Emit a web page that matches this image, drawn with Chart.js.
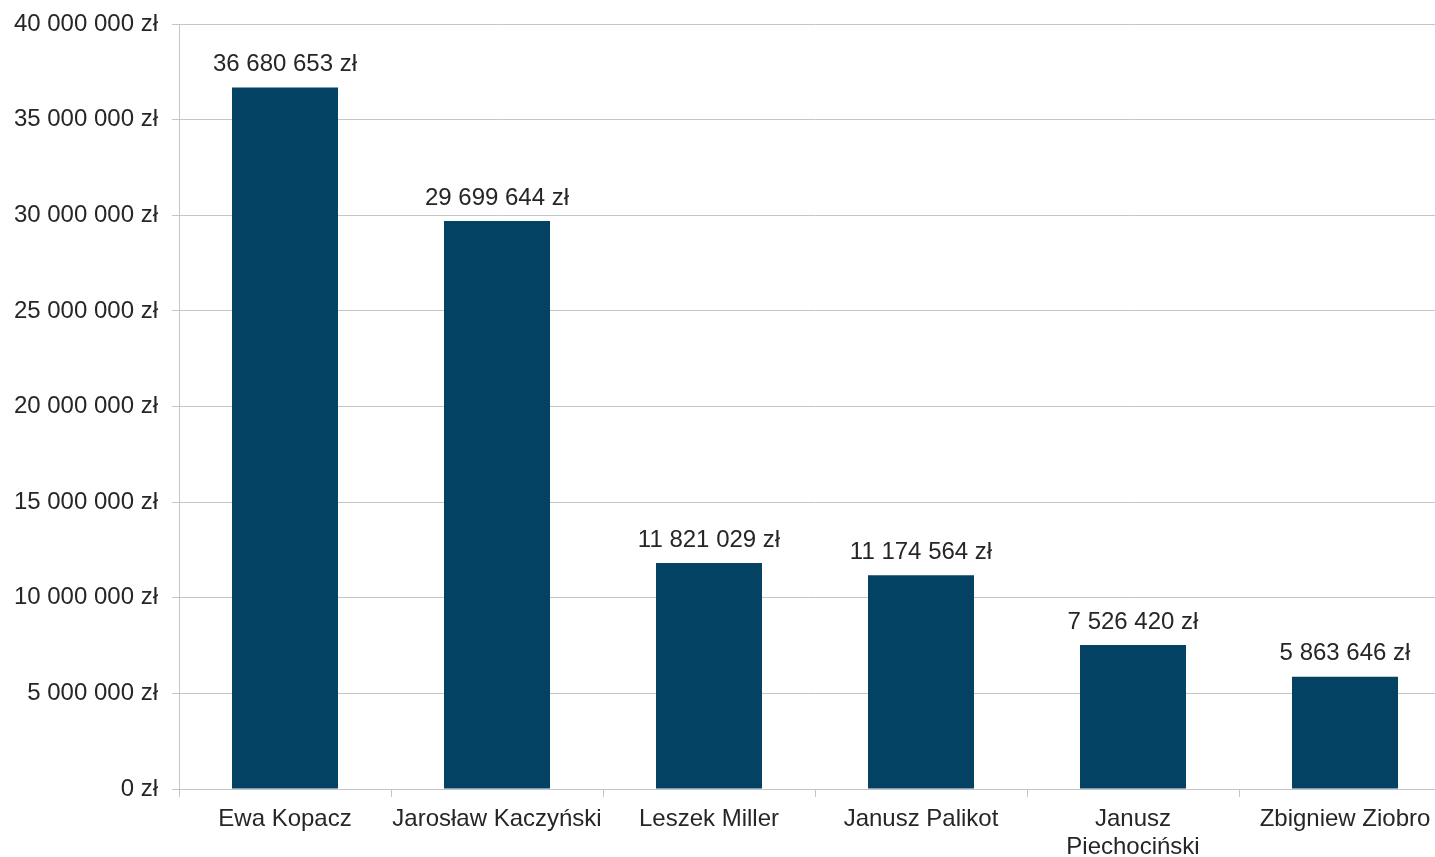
<!DOCTYPE html>
<html lang="pl">
<head>
<meta charset="utf-8">
<script src="https://cdn.jsdelivr.net/npm/chart.js@4/dist/chart.umd.min.js"></script>
<style>
    html, body { margin: 0; padding: 0; background: #ffffff; overflow: hidden; }
    #wykres { display: block; }
</style>
</head>
<body>
<!-- ostatnia kategoria wychodzi poza prawą krawędź okna -->
<canvas id="wykres" width="1451" height="857"></canvas>
<script>
const kandydaci = ["Ewa Kopacz", "Jarosław Kaczyński", "Leszek Miller", "Janusz Palikot", ["Janusz", "Piechociński"], "Zbigniew Ziobro"];
const kwoty = [36680653, 29699644, 11821029, 11174564, 7526420, 5863646];
const osY = { min: 0, max: 40000000, krok: 5000000 };

const kolorSlupka = "#034263";
const kolorTekstu = "#262626";
const kolorSiatki = "#c3c6c9";
const czcionka = { family: "'Liberation Sans', Arial, sans-serif", size: 24 };

function formatujZl(v) {
    return String(v).replace(/\B(?=(\d{3})+(?!\d))/g, " ") + " zł";
}

// wartości nad słupkami
const etykietyWartosci = {
    id: "etykietyWartosci",
    afterDatasetsDraw(chart) {
        const ctx = chart.ctx;
        const meta = chart.getDatasetMeta(0);
        ctx.save();
        ctx.font = `${czcionka.size}px ${czcionka.family}`;
        ctx.fillStyle = kolorTekstu;
        ctx.textAlign = "center";
        ctx.textBaseline = "middle";
        meta.data.forEach((bar, i) => {
            ctx.fillText(formatujZl(kwoty[i]), bar.x, bar.y - 23);
        });
        ctx.restore();
    }
};

const ctx = document.getElementById("wykres").getContext("2d");
new Chart(ctx, {
    type: "bar",
    data: {
        labels: kandydaci,
        datasets: [{
            data: kwoty,
            backgroundColor: kolorSlupka,
            borderWidth: 0,
            barPercentage: 0.5,
            categoryPercentage: 1
        }]
    },
    options: {
        responsive: false,
        animation: false,
        layout: { padding: { top: 24, right: 0, bottom: 0, left: 0 } },
        plugins: {
            legend: { display: false },
            tooltip: { enabled: false }
        },
        scales: {
            x: {
                afterFit(scale) { scale.height = 68; },
                grid: {
                    drawOnChartArea: false,
                    color: kolorSiatki,
                    tickLength: 8
                },
                border: { color: kolorSiatki },
                ticks: {
                    color: kolorTekstu,
                    font: { ...czcionka, lineHeight: 1.15 },
                    padding: 9,
                    maxRotation: 0,
                    autoSkip: false
                }
            },
            y: {
                min: osY.min,
                max: osY.max,
                afterFit(scale) {
                    scale.width = 179;
                    scale.paddingTop = 0;
                },
                grid: {
                    color: kolorSiatki,
                    tickLength: 7
                },
                border: { color: kolorSiatki },
                ticks: {
                    stepSize: osY.krok,
                    color: kolorTekstu,
                    font: czcionka,
                    padding: 14,
                    callback: v => formatujZl(v)
                }
            }
        }
    },
    plugins: [etykietyWartosci]
});
</script>
</body>
</html>
